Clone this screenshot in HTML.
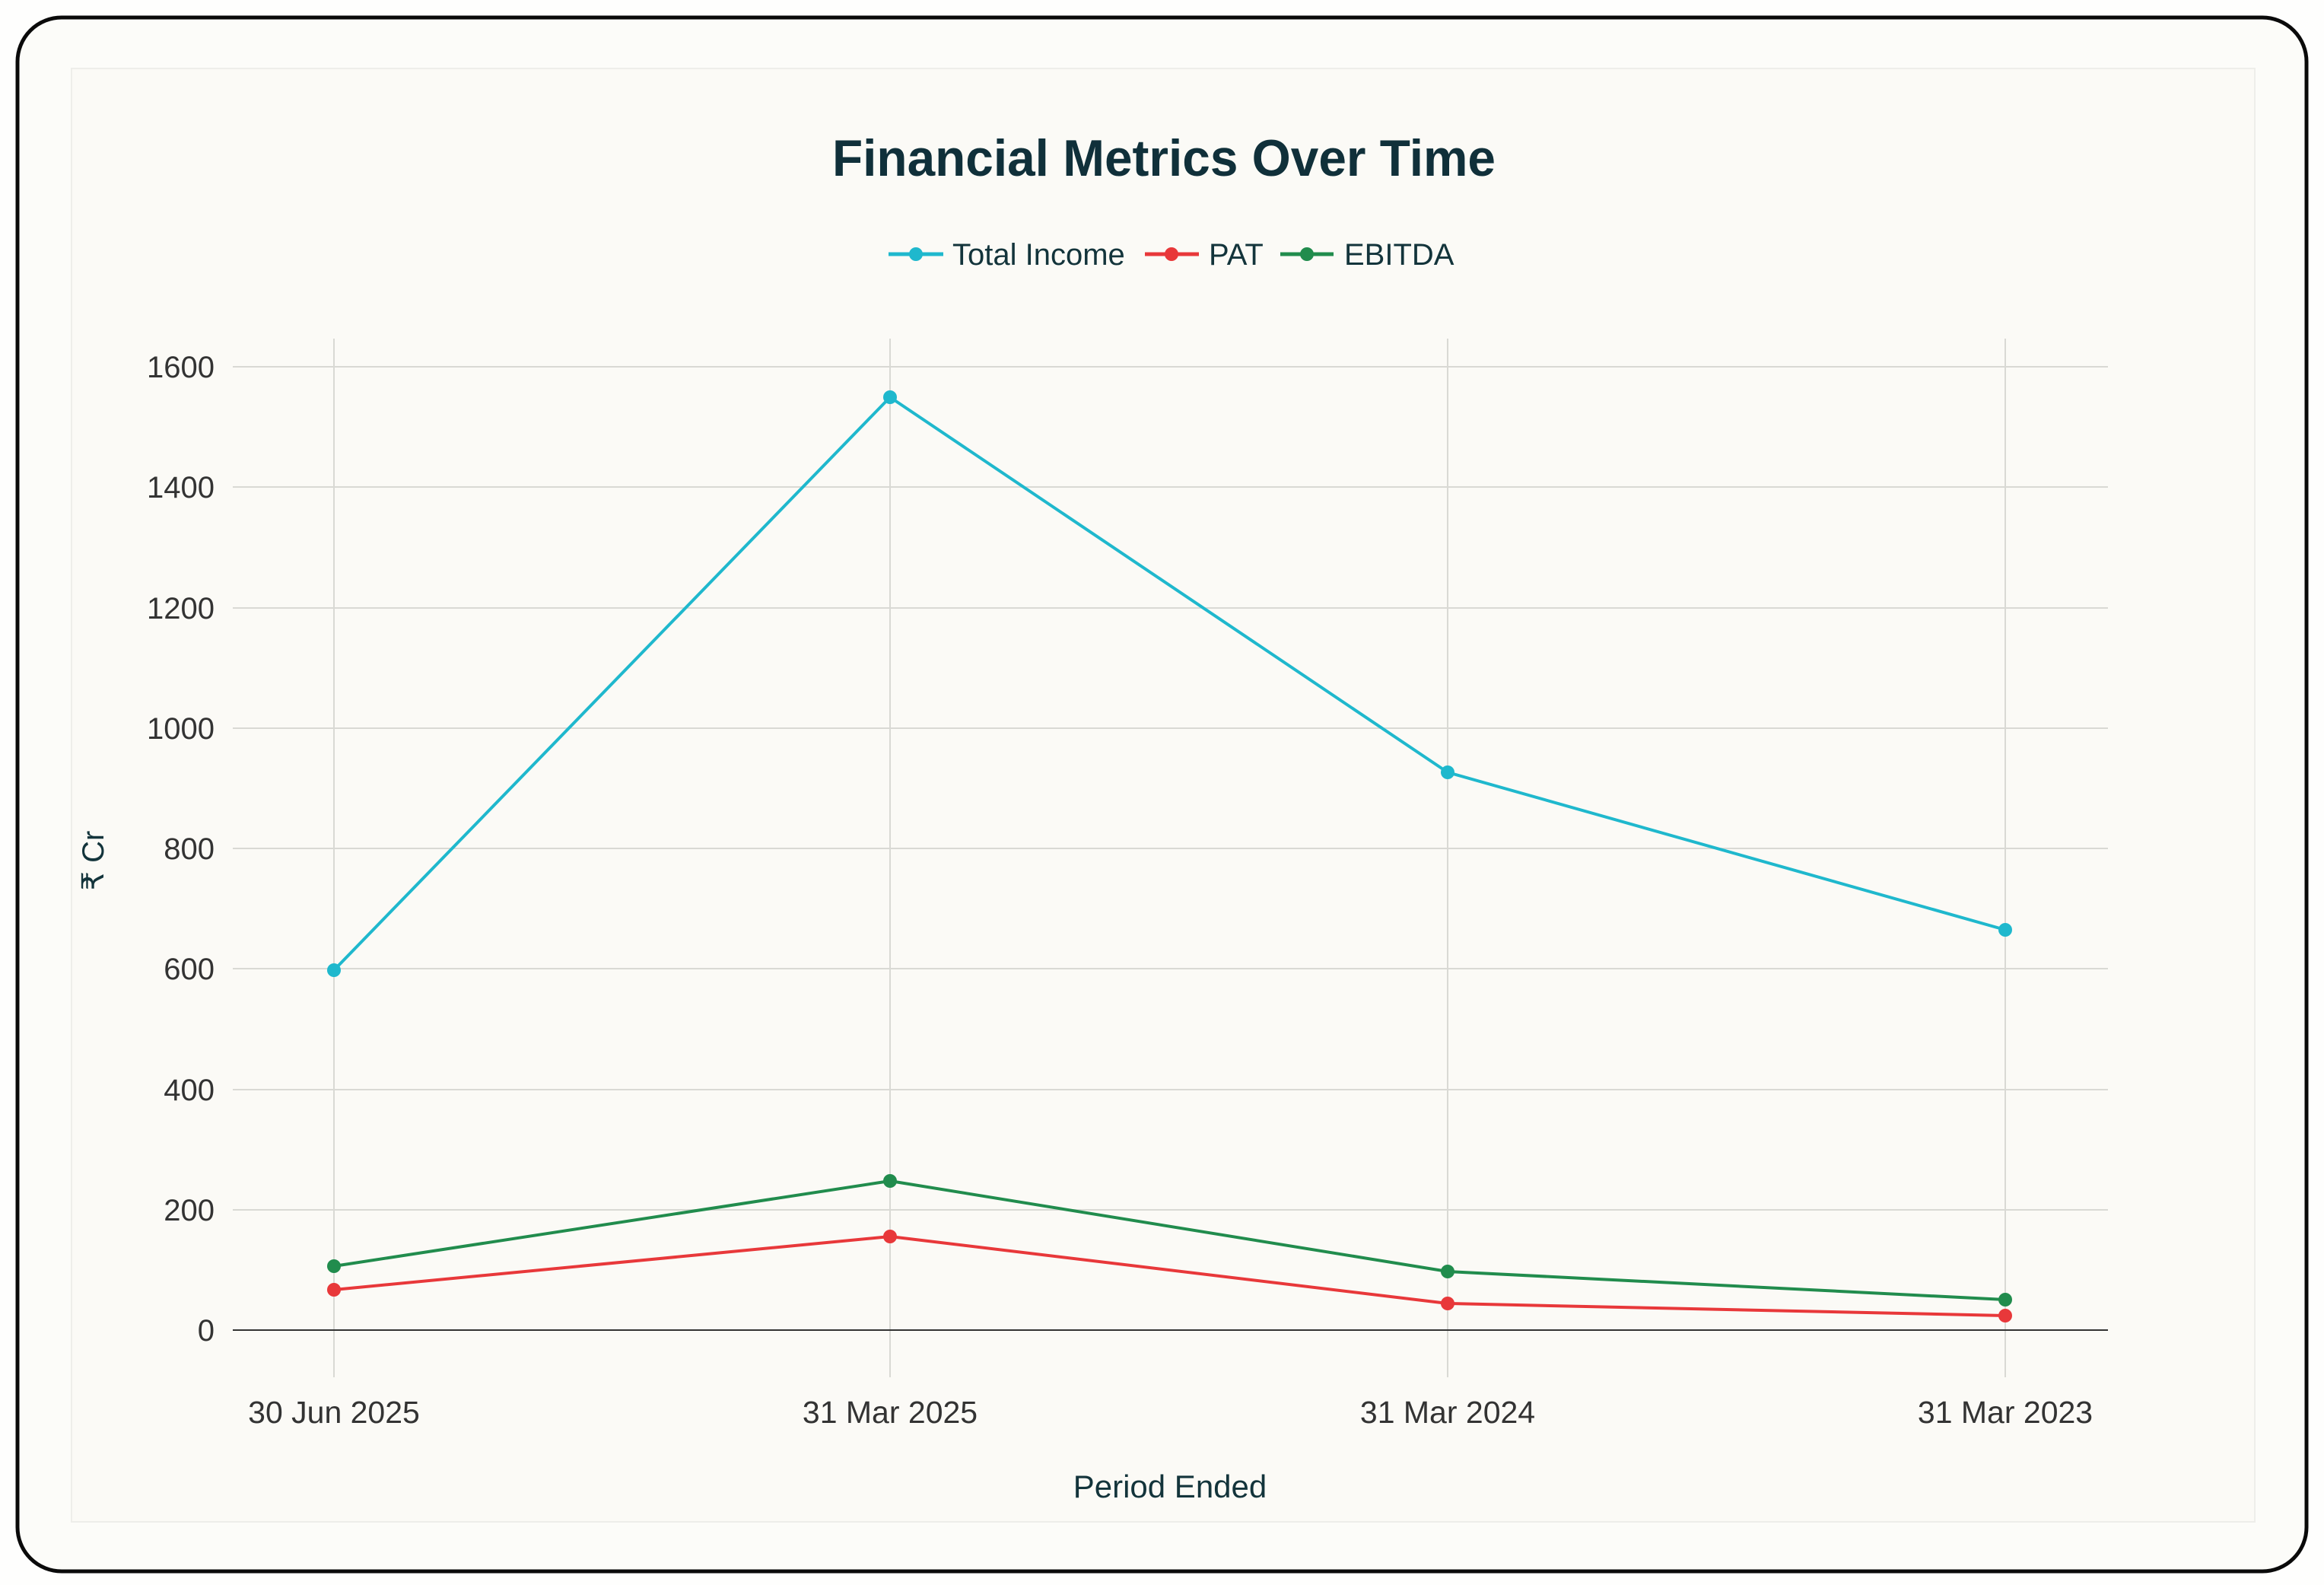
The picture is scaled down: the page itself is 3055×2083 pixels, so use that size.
<!DOCTYPE html>
<html><head><meta charset="utf-8"><style>
html,body{margin:0;padding:0;background:#fff;}
svg{display:block;}
text{font-family:"Liberation Sans",sans-serif;}
</style></head><body>
<svg width="3055" height="2083" viewBox="0 0 3055 2083" xmlns="http://www.w3.org/2000/svg">
<rect x="0" y="0" width="3055" height="2083" fill="#fefefd"/>
<rect x="23" y="23" width="3009" height="2042" rx="58" ry="58" fill="#fcfcf9" stroke="#0a0a0a" stroke-width="5"/>
<rect x="94" y="90" width="2870" height="1910" fill="#fbfaf6" stroke="#eeeeea" stroke-width="2"/>
<text x="1530" y="231" text-anchor="middle" font-size="68" font-weight="bold" fill="#10303a" textLength="872" lengthAdjust="spacingAndGlyphs">Financial Metrics Over Time</text>
<g stroke-width="5">
<line x1="1168" y1="334" x2="1240" y2="334" stroke="#1fb8cd"/><circle cx="1204" cy="334" r="9" fill="#1fb8cd"/>
<line x1="1505" y1="334" x2="1576" y2="334" stroke="#e8383a"/><circle cx="1540" cy="334" r="9" fill="#e8383a"/>
<line x1="1683" y1="334" x2="1753" y2="334" stroke="#218c4d"/><circle cx="1718" cy="334" r="9" fill="#218c4d"/>
</g>
<g font-size="40" fill="#13343b">
<text x="1252" y="348">Total Income</text>
<text x="1589" y="348">PAT</text>
<text x="1767" y="348">EBITDA</text>
</g>
<g stroke="#d9d9d4" stroke-width="2">
<line x1="306" y1="482" x2="2771" y2="482"/>
<line x1="306" y1="640" x2="2771" y2="640"/>
<line x1="306" y1="799" x2="2771" y2="799"/>
<line x1="306" y1="957" x2="2771" y2="957"/>
<line x1="306" y1="1115" x2="2771" y2="1115"/>
<line x1="306" y1="1273" x2="2771" y2="1273"/>
<line x1="306" y1="1432" x2="2771" y2="1432"/>
<line x1="306" y1="1590" x2="2771" y2="1590"/>
<line x1="439" y1="445" x2="439" y2="1810"/>
<line x1="1170" y1="445" x2="1170" y2="1810"/>
<line x1="1903" y1="445" x2="1903" y2="1810"/>
<line x1="2636" y1="445" x2="2636" y2="1810"/>
</g>
<line x1="306" y1="1748" x2="2771" y2="1748" stroke="#333" stroke-width="2"/>
<g font-size="40" fill="#333" text-anchor="end">
<text x="282" y="496">1600</text>
<text x="282" y="654">1400</text>
<text x="282" y="813">1200</text>
<text x="282" y="971">1000</text>
<text x="282" y="1129">800</text>
<text x="282" y="1287">600</text>
<text x="282" y="1446">400</text>
<text x="282" y="1604">200</text>
<text x="282" y="1762">0</text>
</g>
<g font-size="41" fill="#333" text-anchor="middle">
<text x="439" y="1870">30 Jun 2025</text>
<text x="1170" y="1870">31 Mar 2025</text>
<text x="1903" y="1870">31 Mar 2024</text>
<text x="2636" y="1870">31 Mar 2023</text>
</g>
<text x="1538" y="1968" text-anchor="middle" font-size="42" fill="#13343b">Period Ended</text>
<text transform="translate(136,1131) rotate(-90)" text-anchor="middle" font-size="40" fill="#13343b">₹ Cr</text>
<g fill="none" stroke-width="4" stroke-linejoin="round">
<polyline points="439,1275 1170,522 1903,1015 2636,1222" stroke="#1fb8cd"/>
<polyline points="439,1695 1170,1625 1903,1713 2636,1729" stroke="#e8383a"/>
<polyline points="439,1664 1170,1552 1903,1671 2636,1708" stroke="#218c4d"/>
</g>
<g fill="#1fb8cd"><circle cx="439" cy="1275" r="9"/><circle cx="1170" cy="522" r="9"/><circle cx="1903" cy="1015" r="9"/><circle cx="2636" cy="1222" r="9"/></g>
<g fill="#e8383a"><circle cx="439" cy="1695" r="9"/><circle cx="1170" cy="1625" r="9"/><circle cx="1903" cy="1713" r="9"/><circle cx="2636" cy="1729" r="9"/></g>
<g fill="#218c4d"><circle cx="439" cy="1664" r="9"/><circle cx="1170" cy="1552" r="9"/><circle cx="1903" cy="1671" r="9"/><circle cx="2636" cy="1708" r="9"/></g>
</svg>
</body></html>
